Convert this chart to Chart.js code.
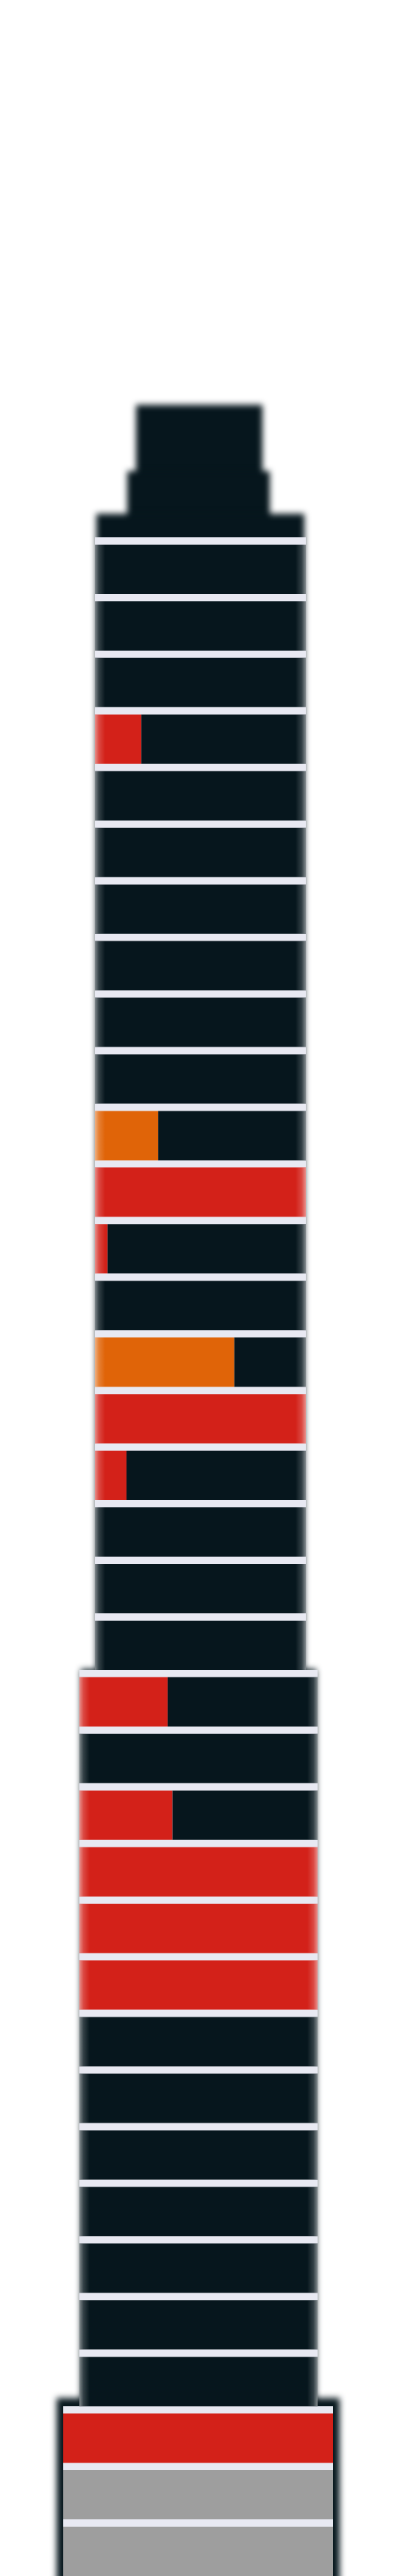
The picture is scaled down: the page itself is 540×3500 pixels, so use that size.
<!DOCTYPE html>
<html>
<head>
<meta charset="utf-8">
<script src="https://cdn.jsdelivr.net/npm/chart.js@4/dist/chart.umd.min.js"></script>
<style>
  html, body { margin: 0; padding: 0; background: #ffffff; overflow: hidden; }
  #wrap { position: relative; width: 540px; height: 3520px; }
</style>
</head>
<body>
<div id="wrap"><canvas id="c"></canvas></div>
<script>
// ---- DATA (top floor first) ----
const floors = ['35','34','33','32','31','30','29','28','27','26','25','24','23','22','21','20','19','18','17','16',
                '15','14','13','12','11','10','9','8','7','6','5','4','3',
                '2','1','0'];
const wing = ['upper','upper','upper','upper','upper','upper','upper','upper','upper','upper',
              'upper','upper','upper','upper','upper','upper','upper','upper','upper','upper',
              'lower','lower','lower','lower','lower','lower','lower','lower','lower','lower','lower','lower','lower',
              'base','base','base'];
// share of each floor that is coloured (%)
const share = [0,0,0,22,0,0,0,0,0,0,30,100,6,0,66,100,15,0,0,0,
               37,0,39,100,100,100,0,0,0,0,0,0,0,
               100,100,100];
const kind = ['','','','red','','','','','','','orange','red','red','','orange','red','red','','','',
              'red','','red','red','red','red','','','','','','','',
              'red','grey','grey'];

// ---- STYLE / GEOMETRY ----
const DARK = '#06161d';
const LAV = '#e8e9f2';
const COLORS = { red: '#d32119', orange: '#e06408', grey: '#9e9e9e' };
const WINGS = { upper: { left: -141, right: 146 }, lower: { left: -162, right: 162 }, base: { left: -184, right: 183 } };
const BASE_FRAME = { left: -193, right: 192, above: 11 };
const ROOF = { crown: { left: -85, right: 87, height: 180 }, step: { left: -97, right: 97, height: 90 }, cap: 32 };
const BAR_FRAC = 0.871;

const fillData = share.map((s, i) => {
  const w = WINGS[wing[i]];
  return s > 0 ? [w.left, w.left + s / 100 * (w.right - w.left)] : null;
});
const restData = share.map((s, i) => {
  const w = WINGS[wing[i]];
  return s < 100 ? [w.left + s / 100 * (w.right - w.left), w.right] : null;
});

const building = {
  id: 'building',
  beforeDatasetsDraw(chart) {
    const { ctx, scales: { x, y } } = chart;
    const band = y.getPixelForValue(1) - y.getPixelForValue(0);
    const half = band * BAR_FRAC / 2;
    const gap = band - 2 * half;
    const range = w => {
      const i0 = wing.indexOf(w), i1 = wing.lastIndexOf(w);
      return { top: y.getPixelForValue(i0) - half - gap, bottom: y.getPixelForValue(i1) + half };
    };
    const U = range('upper'), L = range('lower'), B = range('base');
    const px = v => x.getPixelForValue(v);
    const rect = (l, r, t, b, inset) => {
      inset = inset || 0;
      ctx.fillRect(px(l) + inset, t, px(r) - px(l) - 2 * inset, b - t);
    };
    ctx.save();
    ctx.filter = 'blur(4px)';
    ctx.fillStyle = DARK;
    rect(ROOF.crown.left, ROOF.crown.right, U.top - ROOF.crown.height, U.top + 5);
    rect(ROOF.step.left, ROOF.step.right, U.top - ROOF.step.height, U.top + 5);
    rect(WINGS.upper.left, WINGS.upper.right, U.top - ROOF.cap, L.top + gap, 2);
    rect(WINGS.lower.left, WINGS.lower.right, L.top - 1, B.top + gap, 2);
    rect(BASE_FRAME.left, BASE_FRAME.right, B.top - BASE_FRAME.above, B.bottom + 40);
    ctx.restore();
    ctx.save();
    ctx.fillStyle = LAV;
    [['upper', U], ['lower', L], ['base', B]].forEach(([w, r]) => {
      rect(WINGS[w].left, WINGS[w].right, r.top, r.bottom);
    });
    ctx.restore();
  },
  afterDatasetsDraw(chart) {
    const { ctx, scales: { x, y } } = chart;
    const band = y.getPixelForValue(1) - y.getPixelForValue(0);
    const half = band * BAR_FRAC / 2;
    const fw = 14;
    ctx.save();
    wing.forEach((w, i) => {
      if (w === 'base') return;
      const yc = y.getPixelForValue(i);
      const t = yc - half, h = 2 * half;
      const Lp = x.getPixelForValue(WINGS[w].left), Rp = x.getPixelForValue(WINGS[w].right);
      let g = ctx.createLinearGradient(Lp, 0, Lp + fw, 0);
      g.addColorStop(0, 'rgba(255,255,255,0.5)');
      g.addColorStop(0.4, 'rgba(255,255,255,0.18)');
      g.addColorStop(1, 'rgba(255,255,255,0)');
      ctx.fillStyle = g;
      ctx.fillRect(Lp, t, fw, h);
      g = ctx.createLinearGradient(Rp, 0, Rp - fw, 0);
      g.addColorStop(0, 'rgba(255,255,255,0.5)');
      g.addColorStop(0.4, 'rgba(255,255,255,0.18)');
      g.addColorStop(1, 'rgba(255,255,255,0)');
      ctx.fillStyle = g;
      ctx.fillRect(Rp - fw, t, fw, h);
    });
    ctx.restore();
  }
};

new Chart(document.getElementById('c'), {
  type: 'bar',
  data: {
    labels: floors,
    datasets: [
      {
        label: 'Affected',
        data: fillData,
        backgroundColor: kind.map(k => COLORS[k] || 'rgba(0,0,0,0)'),
        grouped: false,
        barPercentage: BAR_FRAC,
        categoryPercentage: 1,
        borderWidth: 0,
        order: 0
      },
      {
        label: 'Unaffected',
        data: restData,
        backgroundColor: DARK,
        grouped: false,
        barPercentage: BAR_FRAC,
        categoryPercentage: 1,
        borderWidth: 0,
        order: 1
      }
    ]
  },
  options: {
    indexAxis: 'y',
    responsive: true,
    maintainAspectRatio: false,
    animation: false,
    layout: { padding: { top: 735, bottom: 15, left: 0, right: 0 } },
    scales: {
      x: { type: 'linear', min: -270, max: 270, display: false },
      y: { type: 'category', display: false, offset: true }
    },
    plugins: { legend: { display: false }, tooltip: { enabled: false } }
  },
  plugins: [building]
});
</script>
</body>
</html>
